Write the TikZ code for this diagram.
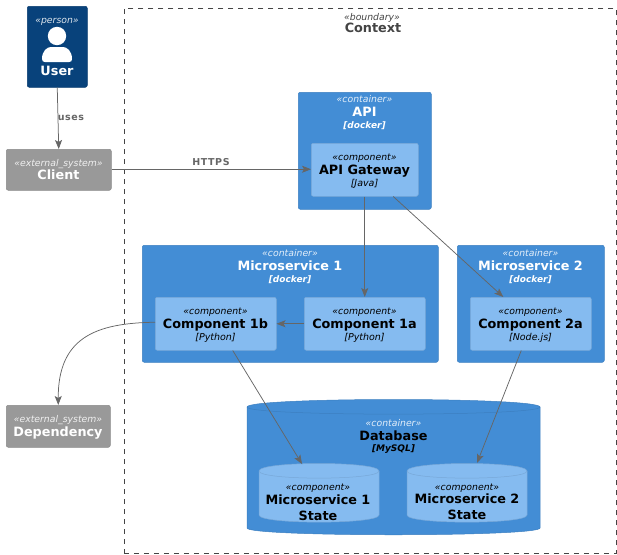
\documentclass[tikz,border=0pt]{standalone}
\usepackage{fontspec}
\setmainfont{DejaVu Sans}
\usetikzlibrary{arrows.meta}
\definecolor{personc}{HTML}{08427B}
\definecolor{extc}{HTML}{999999}
\definecolor{contc}{HTML}{438DD5}
\definecolor{contl}{HTML}{3C7FC0}
\definecolor{compc}{HTML}{85BBF0}
\definecolor{compl}{HTML}{78A8D8}
\definecolor{linec}{HTML}{666666}
\definecolor{boundc}{HTML}{444444}
\tikzset{
  box/.style={anchor=north west,inner sep=0pt,rounded corners=2pt,line width=.5pt},
  personbox/.style={box,fill=personc,draw=personc!90!black},
  extbox/.style={box,fill=extc,draw=extc!90!black},
  contbox/.style={box,fill=contc,draw=contl},
  compbox/.style={box,fill=compc,draw=compl},
  cyl cont/.style={fill=contc,draw=contl,line width=.5pt},
  cyl comp/.style={fill=compc,draw=compl,line width=.5pt},
  lbl/.style={anchor=base,inner sep=0pt,outer sep=0pt},
  stereo/.style={lbl,font=\fontsize{9.3}{11}\selectfont\itshape},
  title/.style={lbl,font=\fontsize{12.8}{15}\selectfont\bfseries},
  tech/.style={lbl,font=\fontsize{9.5}{11}\selectfont\itshape},
  techb/.style={lbl,font=\fontsize{9}{11}\selectfont\itshape\bfseries},
  rel/.style={draw=linec,line width=.75pt,-{Stealth[length=9pt,width=7pt,inset=2pt]}},
  rellbl/.style={lbl,text=linec,font=\fontsize{9.5}{11}\selectfont\bfseries\addfontfeature{LetterSpace=6}},
}
\begin{document}
\begin{tikzpicture}[x=1pt,y=-1pt]
\useasboundingbox (0,0) rectangle (617,554);
% boundary
\node[box,rounded corners=0pt,draw=boundc,line width=.5pt,dash pattern=on 5pt off 5pt,minimum width=492pt,minimum height=545pt] (ctx) at (124,8) {};
\node[stereo,text=boundc] (ctxs) at (372,20) {«boundary»};
\node[title,text=boundc] (ctxt) at (373,32) {Context};
% user
\node[personbox,minimum width=60pt,minimum height=81pt] (user) at (27,6) {};
\node[stereo,text=white!85!personc] (users) at (57,23.5) {«person»};
\fill[white] (57,36) circle (9.2);
\fill[white] (42,59) .. controls (42,51) and (47,47) .. (51,47) -- (63,47) .. controls (67,47) and (72,51) .. (72,59)
  .. controls (72,61) and (71,62) .. (69,62) -- (45,62) .. controls (43,62) and (42,61) .. (42,59) -- cycle;
\node[title,text=white] (usert) at (57,75) {User};
% external
\node[extbox,minimum width=105pt,minimum height=41pt] (client) at (6,149) {};
\node[stereo,text=white!85!extc] (clients) at (58.5,166) {«external\_system»};
\node[title,text=white] (clientt) at (58.5,179) {Client};
\node[extbox,minimum width=104pt,minimum height=42pt] (dep) at (6,405) {};
\node[stereo,text=white!85!extc] (deps) at (58,422) {«external\_system»};
\node[title,text=white] (dept) at (58,436) {Dependency};
% API
\node[contbox,minimum width=133pt,minimum height=117pt] (api) at (298,92) {};
\node[stereo,text=white!85!contc] (apis) at (364.5,102) {«container»};
\node[title,text=white] (apit) at (364.5,116) {API};
\node[techb,text=white] (apid) at (364.5,128) {[docker]};
\node[compbox,minimum width=107pt,minimum height=53pt] (gw) at (311,143) {};
\node[stereo] (gws) at (364.5,160) {«component»};
\node[title] (gwt) at (364.5,174) {API Gateway};
\node[tech] (gwd) at (364.5,186) {[Java]};
% MS1
\node[contbox,minimum width=296pt,minimum height=117pt] (ms1) at (142,245) {};
\node[stereo,text=white!85!contc] (ms1s) at (290,256) {«container»};
\node[title,text=white] (ms1t) at (290,270) {Microservice 1};
\node[techb,text=white] (ms1d) at (290,282) {[docker]};
\node[compbox,minimum width=121pt,minimum height=53pt] (c1b) at (155,297) {};
\node[stereo] (c1bs) at (215.5,314) {«component»};
\node[title] (c1bt) at (215.5,328) {Component 1b};
\node[tech] (c1bd) at (215.5,340) {[Python]};
\node[compbox,minimum width=121pt,minimum height=53pt] (c1a) at (304,297) {};
\node[stereo] (c1as) at (364.5,314) {«component»};
\node[title] (c1at) at (364.5,328) {Component 1a};
\node[tech] (c1ad) at (364.5,340) {[Python]};
% MS2
\node[contbox,minimum width=147pt,minimum height=117pt] (ms2) at (457,245) {};
\node[stereo,text=white!85!contc] (ms2s) at (530.5,256) {«container»};
\node[title,text=white] (ms2t) at (530.5,270) {Microservice 2};
\node[techb,text=white] (ms2d) at (530.5,282) {[docker]};
\node[compbox,minimum width=121pt,minimum height=53pt] (c2a) at (470,297) {};
\node[stereo] (c2as) at (530.5,314) {«component»};
\node[title] (c2at) at (530.5,328) {Component 2a};
\node[tech] (c2ad) at (530.5,340) {[Node.js]};
% Database
\draw[cyl cont] (247,407) .. controls (247,397) and (540,397) .. (540,407)
  -- (540,528) .. controls (540,537) and (247,537) .. (247,528) -- cycle;
\draw[contl,line width=.5pt] (247,407) .. controls (247,416.5) and (540,416.5) .. (540,407);
\node[stereo,text=white!85!contc] (dbs) at (393.5,426) {«container»};
\node[title] (dbt) at (393.5,440) {Database};
\node[techb] (dbd) at (393.5,451) {[MySQL]};
% states
\draw[cyl comp] (259,471) .. controls (259,461) and (379,461) .. (379,471)
  -- (379,515) .. controls (379,524.5) and (259,524.5) .. (259,515) -- cycle;
\draw[compl,line width=.5pt] (259,471) .. controls (259,480.5) and (379,480.5) .. (379,471);
\node[stereo] (s1s) at (318,490) {«component»};
\node[title] (s1t) at (318,504) {Microservice 1};
\node[title] (s1u) at (318,520) {State};
\draw[cyl comp] (407,471) .. controls (407,461) and (527,461) .. (527,471)
  -- (527,515) .. controls (527,524.5) and (407,524.5) .. (407,515) -- cycle;
\draw[compl,line width=.5pt] (407,471) .. controls (407,480.5) and (527,480.5) .. (527,471);
\node[stereo] (s2s) at (467,490) {«component»};
\node[title] (s2t) at (467,503) {Microservice 2};
\node[title] (s2u) at (467,519) {State};
\coordinate (s1top) at (302,464);
\coordinate (s2top) at (477,463);
% connectors
\draw[rel] (user.south) -- (client.north);
\node[rellbl] (usesl) at (71,120) {uses};
\draw[rel] ([yshift=.5pt]client.east) -- ([yshift=.5pt]client.east -| gw.west);
\node[rellbl] (httpsl) at (211,165) {HTTPS};
\draw[rel] (gw.south) -- (gw.south |- c1a.north);
\draw[rel] ([xshift=28.5pt]gw.south) -- ([xshift=-27.5pt]c2a.north);
\draw[rel] (c1a.west) -- (c1b.east);
\draw[rel] ([yshift=1.5pt]c1b.west) .. controls (95,323) and (58,338) .. (dep.north);
\draw[rel] ([xshift=17pt]c1b.south) -- (s1top);
\draw[rel] ([xshift=-9.5pt]c2a.south) -- (s2top);
\end{tikzpicture}
\end{document}
